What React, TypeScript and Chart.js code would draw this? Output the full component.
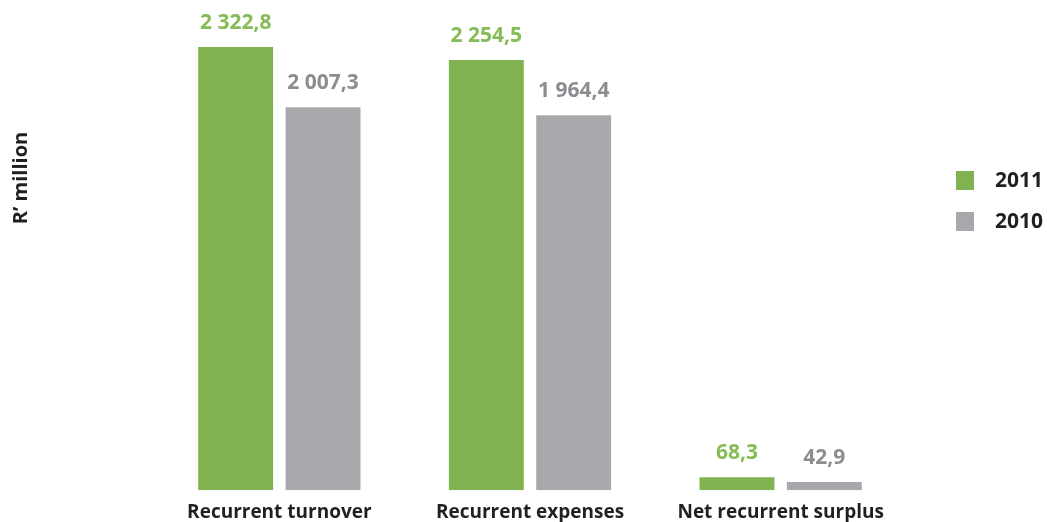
import React, { useEffect, useRef } from "react";
import { Chart, registerables } from "chart.js";

Chart.register(...registerables);

const categories = ["Recurrent turnover", "Recurrent expenses", "Net recurrent surplus"];
const values2011 = [2322.8, 2254.5, 68.3];
const values2010 = [2007.3, 1964.4, 42.9];
const seriesNames = ["2011", "2010"];
const axisTitle = "R’ million";

const GREEN = "#80b250";
const GRAY = "#a7a8ab";
const GREEN_TEXT = "#86bb57";
const GRAY_TEXT = "#8c8d90";
const DARK = "#231f20";
const FONT = "'Open Sans', 'Noto Sans', sans-serif";

const fmt = (v: number) => {
  const [i, d] = v.toFixed(1).split(".");
  const withSpaces = i.replace(/\B(?=(\d{3})+(?!\d))/g, " ");
  return `${withSpaces},${d}`;
};

const extrasPlugin = {
  id: "extras",
  afterDatasetsDraw(chart: any) {
    const ctx = chart.ctx;
    ctx.save();
    // value labels
    ctx.font = `bold 21px ${FONT}`;
    ctx.textAlign = "center";
    ctx.textBaseline = "middle";
    chart.data.datasets.forEach((ds: any, di: number) => {
      const meta = chart.getDatasetMeta(di);
      ctx.fillStyle = di === 0 ? GREEN_TEXT : GRAY_TEXT;
      meta.data.forEach((bar: any, i: number) => {
        ctx.fillText(fmt(ds.data[i]), bar.x, bar.y - 24);
      });
    });
    // axis title
    ctx.save();
    ctx.translate(21, 178);
    ctx.rotate(-Math.PI / 2);
    ctx.fillStyle = DARK;
    ctx.font = `bold 20px ${FONT}`;
    ctx.fillText(axisTitle, 0, 0);
    ctx.restore();
    // legend
    const colors = [GREEN, GRAY];
    const ys = [181, 222];
    ctx.textAlign = "left";
    ctx.font = `bold 21px ${FONT}`;
    seriesNames.forEach((name, i) => {
      ctx.fillStyle = colors[i];
      ctx.fillRect(956, ys[i] - 10, 18, 19);
      ctx.fillStyle = DARK;
      ctx.fillText(name, 995, ys[i]);
    });
    ctx.restore();
  },
};

export default function App() {
  const ref = useRef<HTMLCanvasElement>(null);
  useEffect(() => {
    if (!ref.current) return;
    const chart = new Chart(ref.current, {
      type: "bar",
      data: {
        labels: categories,
        datasets: [
          { label: seriesNames[0], data: values2011, backgroundColor: GREEN },
          { label: seriesNames[1], data: values2010, backgroundColor: GRAY },
        ],
      },
      options: {
        animation: false,
        responsive: false,
        maintainAspectRatio: false,
        layout: { padding: { left: 154, right: 141, top: 0, bottom: -13 } },
        datasets: { bar: { categoryPercentage: 0.697, barPercentage: 0.857 } },
        plugins: { legend: { display: false }, tooltip: { enabled: false } },
        scales: {
          x: {
            grid: { display: false, drawTicks: false },
            border: { display: false },
            ticks: { color: DARK, font: { family: FONT, size: 19, weight: "bold" }, padding: 11 },
          },
          y: { display: false, min: 0, max: 2569 },
        },
      },
      plugins: [extrasPlugin],
    });
    return () => chart.destroy();
  }, []);
  return (
    <div style={{ position: "fixed", left: 0, top: 0, width: 1047, height: 522, background: "#fff" }}>
      <canvas ref={ref} width={1047} height={522} />
    </div>
  );
}
